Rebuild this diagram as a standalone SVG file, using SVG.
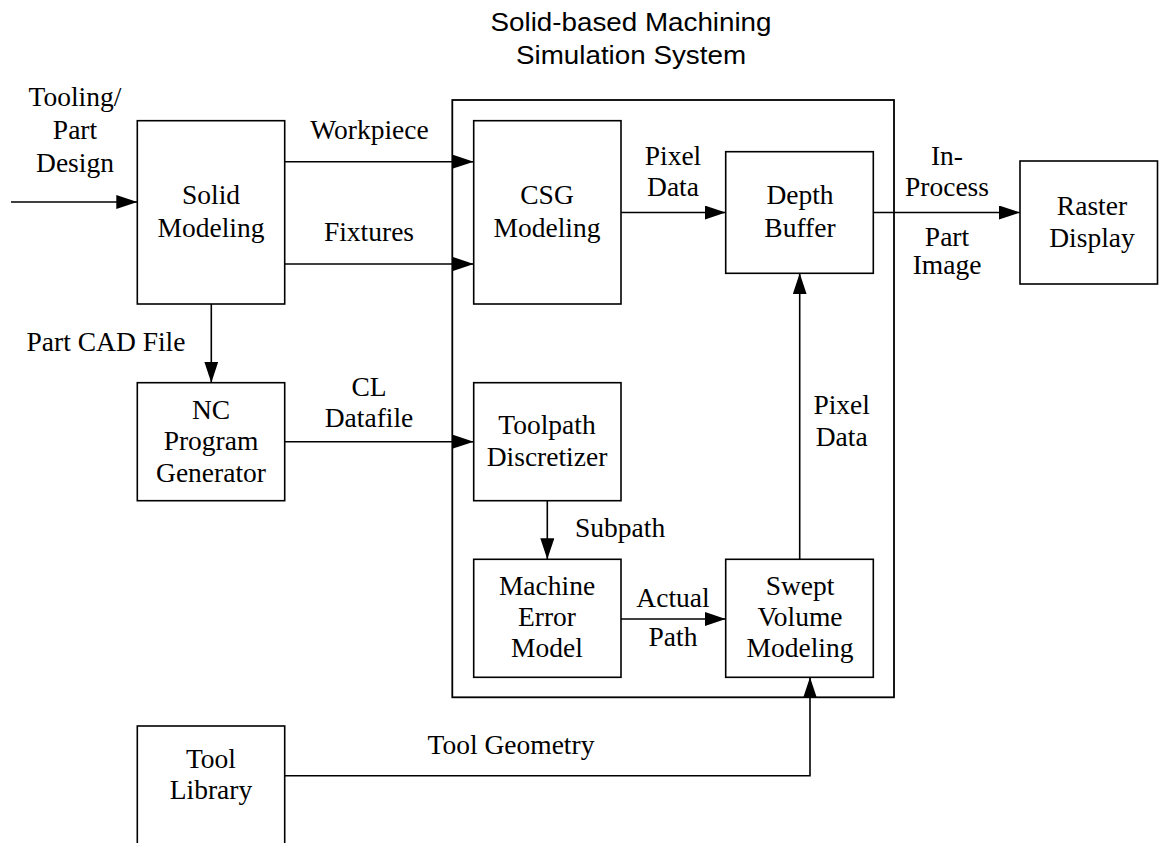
<svg xmlns="http://www.w3.org/2000/svg" width="1159" height="843" viewBox="0 0 1159 843">
  <style>
    .box { fill: #fff; stroke: #000; stroke-width: 1.6; }
    .frame { fill: none; stroke: #000; stroke-width: 1.8; }
    .wire { fill: none; stroke: #000; stroke-width: 1.6; }
    .lbl { font-family: "Liberation Serif", "Times New Roman", serif; font-size: 27.5px; fill: #000; text-anchor: middle; }
    .ttl { font-family: "Liberation Sans", Arial, sans-serif; font-size: 25.5px; fill: #000; text-anchor: middle; }
  </style>
  <defs>
    <marker id="arrow" markerUnits="userSpaceOnUse" markerWidth="22" markerHeight="14" refX="21" refY="7" orient="auto">
      <path d="M0,0 L21,7 L0,14 Z" fill="#000"/>
    </marker>
  </defs>
  <rect width="1159" height="843" fill="#fff"/>

  <!-- system boundary and title (title set slightly wide) -->
  <g id="simulation-system">
    <rect class="frame" x="452.3" y="100" width="441.7" height="597.3"/>
    <text class="ttl" transform="translate(631,30.5) scale(1.09,1)">Solid-based Machining</text>
    <text class="ttl" transform="translate(631,63.5) scale(1.09,1)">Simulation System</text>
  </g>

  <g id="solid-modeling">
    <rect class="box" x="137.3" y="120.7" width="147.4" height="183.3"/>
    <text class="lbl" x="211" y="204">Solid</text>
    <text class="lbl" x="211" y="237">Modeling</text>
  </g>

  <g id="nc-program-generator">
    <rect class="box" x="137.3" y="382.7" width="147.4" height="118"/>
    <text class="lbl" x="211" y="418.5">NC</text>
    <text class="lbl" x="211" y="450">Program</text>
    <text class="lbl" x="211" y="481.5">Generator</text>
  </g>

  <g id="tool-library">
    <rect class="box" x="137.3" y="726" width="147.4" height="130"/>
    <text class="lbl" x="211" y="768">Tool</text>
    <text class="lbl" x="211" y="799">Library</text>
  </g>

  <g id="csg-modeling">
    <rect class="box" x="473.7" y="120.7" width="147.3" height="183.3"/>
    <text class="lbl" x="547" y="204">CSG</text>
    <text class="lbl" x="547" y="237">Modeling</text>
  </g>

  <g id="depth-buffer">
    <rect class="box" x="725.7" y="151.7" width="147.6" height="121.6"/>
    <text class="lbl" x="800" y="204">Depth</text>
    <text class="lbl" x="800" y="237">Buffer</text>
  </g>

  <g id="raster-display">
    <rect class="box" x="1020" y="161" width="137.5" height="123"/>
    <text class="lbl" x="1092" y="215">Raster</text>
    <text class="lbl" x="1092" y="246.5">Display</text>
  </g>

  <g id="toolpath-discretizer">
    <rect class="box" x="473.7" y="382.7" width="147.3" height="118"/>
    <text class="lbl" x="547" y="434">Toolpath</text>
    <text class="lbl" x="547" y="465.5">Discretizer</text>
  </g>

  <g id="machine-error-model">
    <rect class="box" x="473.7" y="559.3" width="147.3" height="118"/>
    <text class="lbl" x="547" y="595">Machine</text>
    <text class="lbl" x="547" y="626">Error</text>
    <text class="lbl" x="547" y="657.3">Model</text>
  </g>

  <g id="swept-volume-modeling">
    <rect class="box" x="725.7" y="559.3" width="147.6" height="118"/>
    <text class="lbl" x="800" y="595">Swept</text>
    <text class="lbl" x="800" y="626">Volume</text>
    <text class="lbl" x="800" y="657.3">Modeling</text>
  </g>

  <!-- data flows -->
  <g id="connectors">
    <path class="wire" d="M11,202 H137.3" marker-end="url(#arrow)"/>
    <path class="wire" d="M284.7,161.7 H473.7" marker-end="url(#arrow)"/>
    <path class="wire" d="M284.7,264 H473.7" marker-end="url(#arrow)"/>
    <path class="wire" d="M211.3,304 V382.7" marker-end="url(#arrow)"/>
    <path class="wire" d="M284.7,441.7 H473.7" marker-end="url(#arrow)"/>
    <path class="wire" d="M621,212.5 H725.7" marker-end="url(#arrow)"/>
    <path class="wire" d="M873.3,212.5 H1020" marker-end="url(#arrow)"/>
    <path class="wire" d="M547.3,500.7 V559.3" marker-end="url(#arrow)"/>
    <path class="wire" d="M621,619 H725.7" marker-end="url(#arrow)"/>
    <path class="wire" d="M799.7,559.3 V273.3" marker-end="url(#arrow)"/>
    <path class="wire" d="M284.7,775.7 H810 V677.3" marker-end="url(#arrow)"/>

    <text class="lbl" x="75" y="106">Tooling/</text>
    <text class="lbl" x="75" y="139">Part</text>
    <text class="lbl" x="75" y="172">Design</text>
    <text class="lbl" x="369.5" y="138.5">Workpiece</text>
    <text class="lbl" x="369" y="241">Fixtures</text>
    <text class="lbl" x="106" y="351">Part CAD File</text>
    <text class="lbl" x="369" y="396">CL</text>
    <text class="lbl" x="369" y="426.5">Datafile</text>
    <text class="lbl" x="673" y="165">Pixel</text>
    <text class="lbl" x="673" y="196">Data</text>
    <text class="lbl" x="947" y="165">In-</text>
    <text class="lbl" x="947" y="196">Process</text>
    <text class="lbl" x="947" y="246">Part</text>
    <text class="lbl" x="947" y="274">Image</text>
    <text class="lbl" x="841.7" y="413.5">Pixel</text>
    <text class="lbl" x="841.7" y="445.5">Data</text>
    <text class="lbl" x="575" y="537.3" style="text-anchor:start">Subpath</text>
    <text class="lbl" x="673" y="606.7">Actual</text>
    <text class="lbl" x="673" y="646">Path</text>
    <text class="lbl" x="511" y="754">Tool Geometry</text>
  </g>
</svg>
